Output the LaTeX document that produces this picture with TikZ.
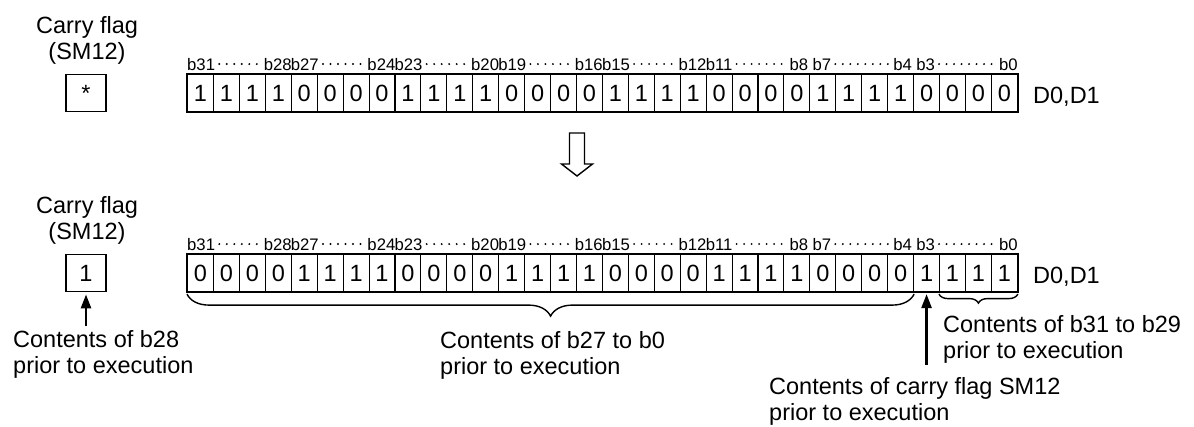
\documentclass[tikz,border=0pt]{standalone}
\usepackage{fontspec}
\setmainfont{Liberation Sans}
\usetikzlibrary{decorations.pathreplacing, arrows.meta, positioning}

\tikzset{
  bitcell/.style={draw, line width=1.1pt, minimum width=25.93pt, minimum height=37pt,
    inner sep=0pt, anchor=north west, font=\fontsize{23.5}{26}\selectfont},
  flagbox/.style={draw, line width=1.4pt, minimum width=40pt, minimum height=37pt,
    inner sep=0pt, anchor=north, font=\fontsize{23.5}{26}\selectfont},
  bitlabel/.style={inner sep=0pt, font=\fontsize{16.7}{18}\selectfont},
  notetext/.style={inner sep=0pt, font=\fontsize{23.5}{26}\selectfont},
  dotrun/.style={line width=2.1pt, line cap=round, dash pattern=on 0pt off 7.5pt,
    shorten <=4pt, shorten >=5pt},
  curly/.style={decorate, decoration={brace, mirror, amplitude=#1}, line width=1.4pt},
  pointer/.style={-{Triangle[length=14pt, width=10pt]}, line width=2.6pt},
}

\begin{document}
\begin{tikzpicture}[x=1pt, y=-1pt]
  \useasboundingbox (0,0) rectangle (1194,426);

  % Before execution
  \node[notetext, align=center, anchor=north] (carryT) at (87,15.8) {Carry flag\\(SM12)};
  \node[flagbox] (flagT) at (86,74) {\raisebox{-5pt}{*}};
  \foreach \v [count=\i from 0] in {1,1,1,1,0,0,0,0,1,1,1,1,0,0,0,0,1,1,1,1,0,0,0,0,1,1,1,1,0,0,0,0}
    \node[bitcell] (T\i) at (187+25.93*\i,74) {\v};
  \draw[line width=1.6pt] (T0.north west) rectangle (T31.south east);
  \node[notetext, anchor=base west] (regT) at (1033,103) {D0,D1};

  % Hollow arrow between the two states
  \draw[line width=1.4pt, line join=miter] (569.5,133) -- (584.5,133) -- (584.5,164) -- (592.5,164)
    -- (577,176) -- (561.5,164) -- (569.5,164) -- cycle;

  % After execution
  \node[notetext, align=center, anchor=north] (carryB) at (87,195.8) {Carry flag\\(SM12)};
  \node[flagbox] (flagB) at (86,254) {1};
  \foreach \v [count=\i from 0] in {0,0,0,0,1,1,1,1,0,0,0,0,1,1,1,1,0,0,0,0,1,1,1,1,0,0,0,0,1,1,1,1}
    \node[bitcell] (B\i) at (187+25.93*\i,254) {\v};
  \draw[line width=1.6pt] (B0.north west) rectangle (B31.south east);
  \node[notetext, anchor=base west] (regB) at (1033,283) {D0,D1};

  % Bit numbers over both registers
  \foreach \r in {T,B} {
    \foreach \g [evaluate=\g as \hi using int(31-4*\g),
                 evaluate=\g as \lo using int(28-4*\g),
                 evaluate=\g as \cl using int(4*\g),
                 evaluate=\g as \cr using int(4*\g+3),
                 evaluate=\g as \hgap using (\g>5)*3,
                 evaluate=\g as \lgap using (\g>4)*(\g<7)*2] in {0,...,7} {
      \node[bitlabel, anchor=base west] (\r-hi-\g) at ([xshift=\hgap pt, yshift=4pt]\r\cl.north west) {b\hi};
      \node[bitlabel, anchor=base east] (\r-lo-\g) at ([xshift=-\lgap pt, yshift=4pt]\r\cr.north east) {b\lo};
      \draw[dotrun] (\r-hi-\g) -- (\r-lo-\g);
    }
  }

  % Braces
  \draw[curly=22pt] ([yshift=-2pt]B0.south west) -- ([yshift=-2pt]B27.south east);
  \draw[curly=9pt] ([yshift=-2pt]B29.south west) -- ([yshift=-2pt]B31.south east);

  % Notes
  \node[notetext, align=left, anchor=north west] (b28note) at (13,329.8)
    {Contents of b28\\prior to execution};
  \node[notetext, align=left, anchor=north west] (b27note) at (440,330.8)
    {Contents of b27 to b0\\prior to execution};
  \node[notetext, align=left, anchor=north west] (b31note) at (943,314.8)
    {Contents of b31 to b29\\prior to execution};
  \node[notetext, align=left, anchor=north west] (carrynote) at (769,376.8)
    {Contents of carry flag SM12\\prior to execution};

  % Arrows
  \draw[pointer, shorten <=4pt, shorten >=2pt] (flagB.south |- b28note.north) -- (flagB.south);
  \draw[pointer, shorten <=12pt, shorten >=2pt] (B28.south |- carrynote.north) -- (B28.south);
\end{tikzpicture}
\end{document}
